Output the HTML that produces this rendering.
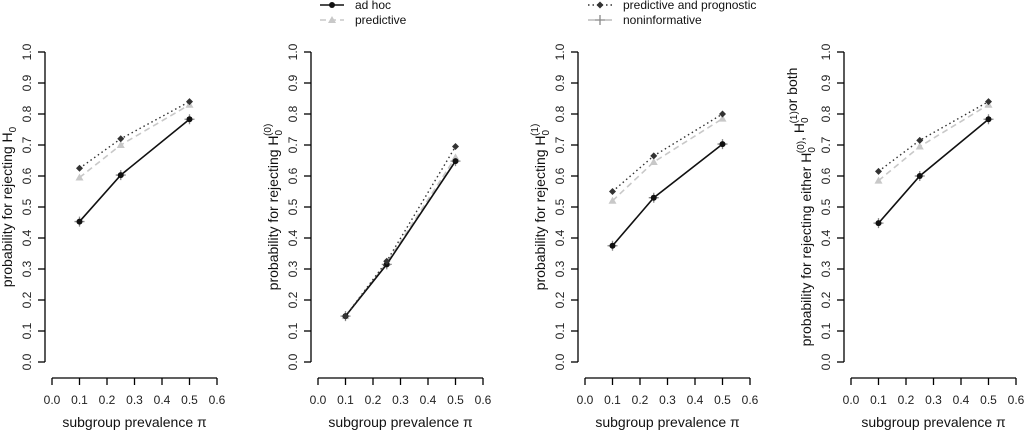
<!DOCTYPE html>
<html><head><meta charset="utf-8"><style>
body{margin:0;background:#fff}
svg{display:block;font-family:"Liberation Sans",Arial,sans-serif}
</style></head><body>
<svg id="c" width="1024" height="431" xmlns="http://www.w3.org/2000/svg"></svg>
<script>
const xCats=[0.1,0.25,0.5];
const xTicks=[0,0.1,0.2,0.3,0.4,0.5,0.6];
const yTicks=[0,0.1,0.2,0.3,0.4,0.5,0.6,0.7,0.8,0.9,1.0];
const p1AdHoc=[0.453,0.603,0.783], p1Pred=[0.595,0.70,0.83], p1PP=[0.625,0.72,0.84], p1Non=[0.453,0.603,0.783];
const p2AdHoc=[0.148,0.315,0.648], p2Pred=[0.148,0.32,0.66], p2PP=[0.148,0.325,0.695], p2Non=[0.148,0.315,0.648];
const p3AdHoc=[0.375,0.53,0.703], p3Pred=[0.52,0.645,0.785], p3PP=[0.55,0.665,0.80], p3Non=[0.375,0.53,0.703];
const p4AdHoc=[0.448,0.60,0.783], p4Pred=[0.585,0.695,0.83], p4PP=[0.615,0.715,0.84], p4Non=[0.448,0.60,0.783];
const SUB='<tspan dy="4" font-size="10">0</tspan>';
const SUP0='<tspan dx="-6" dy="-11" font-size="10">(0)</tspan><tspan dy="7"></tspan>';
const SUP1='<tspan dx="-6" dy="-11" font-size="10">(1)</tspan><tspan dy="7"></tspan>';
const panels=[
 {ax:45,data:[p1AdHoc,p1Pred,p1PP,p1Non],label:'probability  for rejecting H'+SUB},
 {ax:311,data:[p2AdHoc,p2Pred,p2PP,p2Non],label:'probability  for rejecting H'+SUB+SUP0},
 {ax:578,data:[p3AdHoc,p3Pred,p3PP,p3Non],label:'probability  for rejecting H'+SUB+SUP1},
 {ax:844,data:[p4AdHoc,p4Pred,p4PP,p4Non],label:'probability  for rejecting either H'+SUB+SUP0+'<tspan>, H</tspan>'+SUB+SUP1+'<tspan>or both</tspan>'}
];
const svg=document.getElementById('c');
const NS='http://www.w3.org/2000/svg';
function mk(t,a,p){const e=document.createElementNS(NS,t);for(const k in a)e.setAttribute(k,a[k]);(p||svg).appendChild(e);return e;}
const Y0=362,Y1=52;
function ys(v){return Y0-(Y0-Y1)*v;}
const styles=[
 {stroke:'#111',dash:'',w:1.6,m:'dot',mc:'#111',name:'ad-hoc'},
 {stroke:'#c8c8c8',dash:'6,4',w:1.6,m:'tri',mc:'#c8c8c8',name:'predictive'},
 {stroke:'#333',dash:'1.5,3',w:1.4,m:'dia',mc:'#333',name:'predictive-and-prognostic'},
 {stroke:'#999',dash:'',w:1,m:'plus',mc:'#888',name:'noninformative'}
];
function marker(g,m,x,y,c){
 let e;
 if(m==='dot'){e=mk('circle',{cx:x,cy:y,r:3,fill:c},g);}
 else if(m==='tri'){e=mk('path',{d:`M${x},${y-4}L${x+4},${y+3}L${x-4},${y+3}Z`,fill:c},g);}
 else if(m==='dia'){e=mk('path',{d:`M${x},${y-3.5}L${x+3.5},${y}L${x},${y+3.5}L${x-3.5},${y}Z`,fill:c},g);}
 else {e=mk('path',{d:`M${x-5},${y}H${x+5}M${x},${y-5}V${y+5}`,stroke:c,'stroke-width':1.3},g);}
 
 
}
panels.forEach((p,pi)=>{
 const g=mk('g',{});
 
 
 const ax=p.ax, x0=ax+7, x1=ax+172;
 const xs=v=>x0+(x1-x0)*v/0.6;
 const ya=mk('path',{d:`M${ax},${Y1}V${Y0}`,stroke:'#000','stroke-width':1.3,fill:'none'},g);
 
 
 yTicks.forEach(v=>{const y=ys(v);mk('path',{d:`M${ax},${y}H${ax-7}`,stroke:'#000','stroke-width':1.3},g);
  const t=mk('text',{x:ax-14,y:y,'font-size':12,'text-anchor':'middle',fill:'#222',transform:`rotate(-90 ${ax-14} ${y})`},g);t.textContent=v.toFixed(1);
  
  });
 const xa=mk('path',{d:`M${x0},378H${x1}`,stroke:'#000','stroke-width':1.3},g);
 
 
 xTicks.forEach(v=>{const x=xs(v);mk('path',{d:`M${x},378V385`,stroke:'#000','stroke-width':1.3},g);
  const t=mk('text',{x:x,y:404,'font-size':12,'text-anchor':'middle',fill:'#222'},g);t.textContent=v.toFixed(1);
  
  });
 const xt=mk('text',{x:(x0+x1)/2,y:427,'font-size':14,'text-anchor':'middle',fill:'#111'},g);xt.textContent='subgroup prevalence π';
 
 
 const lx=ax-33, ly=(Y0+Y1)/2;
 const yt=mk('text',{x:lx,y:ly,'font-size':14,'text-anchor':'middle',fill:'#111',transform:`rotate(-90 ${lx} ${ly})`},g);yt.innerHTML=p.label;
 
 
 [3,1,0,2].forEach(si=>{const s=styles[si],d=p.data[si];
  const pts=d.map((v,i)=>`${xs(xCats[i])},${ys(v)}`).join(' ');
  const l=mk('polyline',{points:pts,fill:'none',stroke:s.stroke,'stroke-width':s.w,'stroke-dasharray':s.dash},g);
  
  
  d.forEach((v,i)=>marker(g,s.m,xs(xCats[i]),ys(v),s.mc));
 });
});
const lg=mk('g',{});


const legPos=[[320,5,0,'ad hoc'],[320,20,1,'predictive'],[588,5,2,'predictive and prognostic'],[588,20,3,'noninformative']];
legPos.forEach(([x,y,si,txt])=>{const s=styles[si];
 const e=mk('g',{},lg);
 
 
 mk('path',{d:`M${x},${y}H${x+24}`,stroke:s.stroke,'stroke-width':s.w,'stroke-dasharray':s.dash},e);
 marker(e,s.m,x+12,y,s.mc);
 const t=mk('text',{x:x+35,y:y+4,'font-size':12,fill:'#111'},e);t.textContent=txt;
});
</script>
</body></html>
